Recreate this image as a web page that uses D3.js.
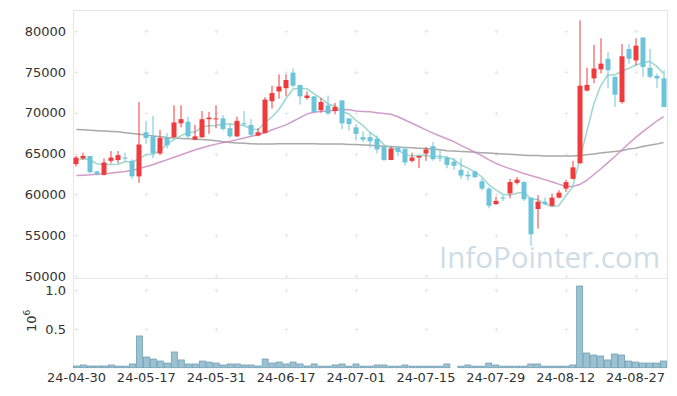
<!DOCTYPE html>
<html><head><meta charset="utf-8">
<script src="https://cdn.jsdelivr.net/npm/d3@7"></script>
<style>body{margin:0;background:#fff}svg{display:block}text{font-family:"DejaVu Sans",sans-serif}</style>
</head><body><svg id="c" width="677" height="396"></svg>
<script>
const dates = ["24-04-30","24-05-02","24-05-03","24-05-07","24-05-08","24-05-09","24-05-10","24-05-13","24-05-14","24-05-16",
"24-05-17","24-05-20","24-05-21","24-05-22","24-05-23","24-05-24","24-05-27","24-05-28","24-05-29","24-05-30",
"24-05-31","24-06-03","24-06-04","24-06-05","24-06-07","24-06-10","24-06-11","24-06-12","24-06-13","24-06-14",
"24-06-17","24-06-18","24-06-19","24-06-20","24-06-21","24-06-24","24-06-25","24-06-26","24-06-27","24-06-28",
"24-07-01","24-07-02","24-07-03","24-07-04","24-07-05","24-07-08","24-07-09","24-07-10","24-07-11","24-07-12",
"24-07-15","24-07-16","24-07-17","24-07-18","24-07-19","24-07-22","24-07-23","24-07-24","24-07-25","24-07-26",
"24-07-29","24-07-30","24-07-31","24-08-01","24-08-02","24-08-05","24-08-06","24-08-07","24-08-08","24-08-09",
"24-08-12","24-08-13","24-08-14","24-08-16","24-08-19","24-08-20","24-08-21","24-08-22","24-08-23","24-08-26",
"24-08-27","24-08-28","24-08-29","24-08-30","24-09-02"];
const open = [63700,64400,64700,62800,62400,64100,64200,64500,64100,62200,
67600,67100,65000,66900,67000,68700,68900,66700,67000,69200,
69200,69300,68100,67100,68700,68500,67200,67500,71400,72600,
73000,74900,73400,71800,72000,70300,70900,70200,71500,69300,
68200,67000,67000,66800,65800,64200,65700,65600,64100,64500,
65000,65900,64500,64500,64000,63000,62400,62800,61600,60700,
58800,59600,60100,61400,61500,59600,58200,59100,58600,59600,
60700,61900,63800,72700,74200,75300,76600,74400,71300,77800,
76400,79200,75500,74500,74200];
const high = [64700,65100,64700,62900,64400,65300,65300,65100,64300,71300,
69000,69600,67900,67500,70900,70900,69500,68500,70200,70100,
70900,69700,68700,69500,70200,69200,68100,71900,73300,74700,
74700,75400,73400,72600,72000,71800,72100,71200,71500,69300,
68600,67700,67600,67200,65800,65800,65800,65600,65100,64700,
65800,66400,65400,64700,64400,64400,62900,62900,62000,60900,
59700,59900,61900,62100,61600,59600,59900,59600,60100,60500,
61800,64100,81300,75500,78300,79100,77400,74400,78400,78400,
79100,79200,77800,74800,75200];
const low = [63400,64200,62600,62300,62300,63800,63800,64100,61900,61400,
66200,64400,64800,65600,66900,68200,66800,66600,66900,67400,
68100,67800,66900,67000,68400,67100,67100,67500,70500,71700,
72000,73100,71000,71600,69900,70000,69700,69800,68000,67800,
66600,66400,65700,65000,64100,64200,64700,63500,63900,63200,
64100,64100,64000,63200,63000,61900,61700,62000,60500,58300,
58700,59200,59500,61200,59200,53700,55800,58700,58500,59500,
60300,61800,63800,72600,73600,74800,73000,70700,71100,76000,
75800,74400,74200,73000,70700];
const close = [64500,64700,62700,62500,63900,64500,64800,64400,62200,66100,
66900,65000,66900,66000,68800,69200,67100,67100,69200,69400,
69300,68000,67100,69000,68600,67300,67600,71600,72400,73200,
74000,73300,72000,72100,70100,71300,69900,70700,68700,68600,
67400,66700,66500,65500,64200,65600,65200,63900,64500,64700,
65500,64300,64400,63600,63500,62300,62200,62100,60700,58600,
59200,59500,61500,61800,59400,55100,59100,58800,59600,60200,
61500,63300,73300,73400,75400,76000,75200,72200,76900,76600,
78200,75600,74400,74200,70700];
const volume = [22000,35000,22000,22000,22000,35000,20000,20000,48000,410000,
138000,112000,86000,60000,203000,100000,48000,48000,86000,73000,
60000,35000,48000,48000,35000,35000,22000,112000,60000,73000,
48000,73000,48000,22000,48000,20000,20000,35000,48000,20000,
48000,20000,20000,35000,35000,20000,20000,35000,20000,20000,
20000,20000,20000,48000,0,20000,35000,20000,20000,60000,
35000,20000,20000,20000,20000,48000,48000,20000,20000,20000,
20000,35000,1055000,190000,164000,151000,100000,177000,164000,86000,
73000,60000,60000,60000,86000];
const ma5 = [64100,64400,64200,63700,63660,63660,63680,64020,63960,64400,
64880,64920,65420,66180,66720,67180,67600,67640,68280,68400,
68420,68600,68600,68560,68400,68000,67920,68820,69500,70420,
71760,72900,72980,72920,72300,71760,71080,70820,70140,69840,
69060,68420,67580,66940,66060,65700,65400,64880,64680,64780,
64760,64580,64680,64500,64260,63620,63200,62740,62160,61180,
60560,60020,59900,60120,60280,59460,59380,58840,58500,58600,
59800,60900,64200,67600,71000,73300,74600,74600,75100,75400,
75800,76100,76300,75700,74800];
const ma20 = [62300,62350,62400,62450,62500,62600,62700,62800,62950,63150,
63400,63650,63950,64250,64550,64850,65150,65450,65700,65950,
66150,66350,66500,66700,66900,67100,67300,67550,67900,68200,
68500,68950,69400,69850,70050,70150,70200,70300,70400,70350,
70200,70150,70100,70000,69900,69800,69500,69100,68700,68300,
67900,67500,67150,66800,66450,66000,65600,65150,64750,64250,
63800,63450,63150,62850,62550,62300,62050,61800,61550,61250,
61000,60950,61200,61700,62400,63100,63850,64600,65400,66200,
66950,67650,68300,68950,69500];
const ma60 = [67950,67900,67850,67800,67750,67700,67650,67550,67450,67350,
67250,67150,67050,66950,66900,66850,66800,66750,66700,66650,
66550,66450,66350,66300,66250,66200,66150,66150,66150,66200,
66200,66200,66200,66200,66200,66150,66150,66150,66150,66100,
66100,66050,66000,65950,65900,65850,65800,65750,65700,65650,
65600,65550,65450,65350,65300,65250,65200,65150,65100,65050,
65000,64950,64900,64850,64800,64750,64750,64700,64700,64700,
64700,64700,64750,64850,64950,65050,65150,65250,65350,65550,
65650,65850,66000,66150,66350];
const priceTicks = [50000,55000,60000,65000,70000,75000,80000];
const volTicks = [500000,1000000];
const xTickEvery = 10;

const svg = d3.select("#c");
const L = 73, R = 667, T = 10, SEP = 278, VB = 367.7;
const x = d3.scaleBand().domain(dates).range([L, R]).padding(0);
const cx = d => x(d) + x.bandwidth() / 2;
const y = d3.scaleLinear().domain([50000, 80000]).range([276, 31]);
const yv = d3.scaleLinear().domain([0, 1000000]).range([VB, 290.3]);

const RED = "#ef3b3b", BLUE = "#6cc4d9";
const data = dates.map((d, i) => ({d, o: open[i], h: high[i], l: low[i], c: close[i], v: volume[i]}));

// frame
const g0 = svg.append("g").attr("stroke", "#e6e6e6").attr("stroke-width", 1);
g0.append("line").attr("x1", L).attr("x2", R).attr("y1", T + 0.5).attr("y2", T + 0.5);
g0.append("line").attr("x1", L).attr("x2", R).attr("y1", SEP + 0.5).attr("y2", SEP + 0.5);
g0.append("line").attr("x1", L + 0.5).attr("x2", L + 0.5).attr("y1", T).attr("y2", VB);
g0.append("line").attr("x1", R + 0.5).attr("x2", R + 0.5).attr("y1", T).attr("y2", VB);

// grid plus marks
const tickDates = dates.filter((d, i) => i % xTickEvery === 0);
const gridYs = priceTicks.map(y).concat(volTicks.map(yv));
const gp = svg.append("g").attr("stroke", "#e8e8e8").attr("stroke-width", 1);
tickDates.forEach(d => gridYs.forEach(yy => {
  const px = Math.round(cx(d)) + 0.5, py = Math.round(yy) + 0.5;
  gp.append("line").attr("x1", px - 2).attr("x2", px + 2).attr("y1", py).attr("y2", py);
  gp.append("line").attr("x1", px).attr("x2", px).attr("y1", py - 2).attr("y2", py + 2);
}));

// watermark
svg.append("text").attr("x", 660).attr("y", 268).attr("text-anchor", "end")
  .style("font-family", "'Open Sans', sans-serif").style("font-size", "29.5px")
  .attr("fill", "#cddde7").text("InfoPointer.com");

// volume bars
svg.append("g").selectAll("rect").data(data.filter(e => e.v > 0)).join("rect")
  .attr("x", e => x(e.d) + 0.5).attr("width", x.bandwidth() - 1)
  .attr("y", e => yv(e.v)).attr("height", e => VB - yv(e.v))
  .attr("fill", "#9cc1d1").attr("stroke", "#6f9fb6").attr("stroke-width", 0.8);

// MA lines
const line = arr => d3.line().x((v, i) => cx(dates[i])).y(v => y(v))(arr);
svg.append("path").attr("d", line(ma60)).attr("fill", "none").attr("stroke", "#9a9a9a").attr("stroke-width", 1.5).attr("opacity", 0.85);
svg.append("path").attr("d", line(ma20)).attr("fill", "none").attr("stroke", "#c98bc0").attr("stroke-width", 1.5).attr("opacity", 0.85);
svg.append("path").attr("d", line(ma5)).attr("fill", "none").attr("stroke", "#8dd0c6").attr("stroke-width", 1.5).attr("opacity", 0.85);

// candles
const gc = svg.append("g");
data.forEach(e => {
  const col = e.c >= e.o ? RED : BLUE;
  const px = Math.round(cx(e.d)) - 0.5;
  gc.append("line").attr("x1", px + 0.5).attr("x2", px + 0.5).attr("y1", y(e.h)).attr("y2", y(e.l))
    .attr("stroke", col).attr("stroke-width", 1);
  const top = y(Math.max(e.o, e.c)), bot = y(Math.min(e.o, e.c));
  gc.append("rect").attr("x", px - 2).attr("width", 5).attr("y", top).attr("height", Math.max(1, bot - top))
    .attr("fill", col);
});

// axes labels
const ga = svg.append("g").style("font-size", "13px").attr("fill", "#333");
priceTicks.forEach(t => ga.append("text").attr("x", 66).attr("y", y(t)).attr("dy", "0.36em")
  .attr("text-anchor", "end").text(t));
volTicks.forEach(t => ga.append("text").attr("x", 66).attr("y", yv(t)).attr("dy", "0.36em")
  .attr("text-anchor", "end").text(d3.format(".1f")(t / 1e6)));
tickDates.forEach(d => ga.append("text").attr("x", cx(d)).attr("y", 382)
  .attr("text-anchor", "middle").text(d));
const lab = ga.append("text").attr("transform", "translate(36,332) rotate(-90)");
lab.append("tspan").text("10");
lab.append("tspan").attr("dy", "-6").style("font-size", "9px").text("6");
</script></body></html>
